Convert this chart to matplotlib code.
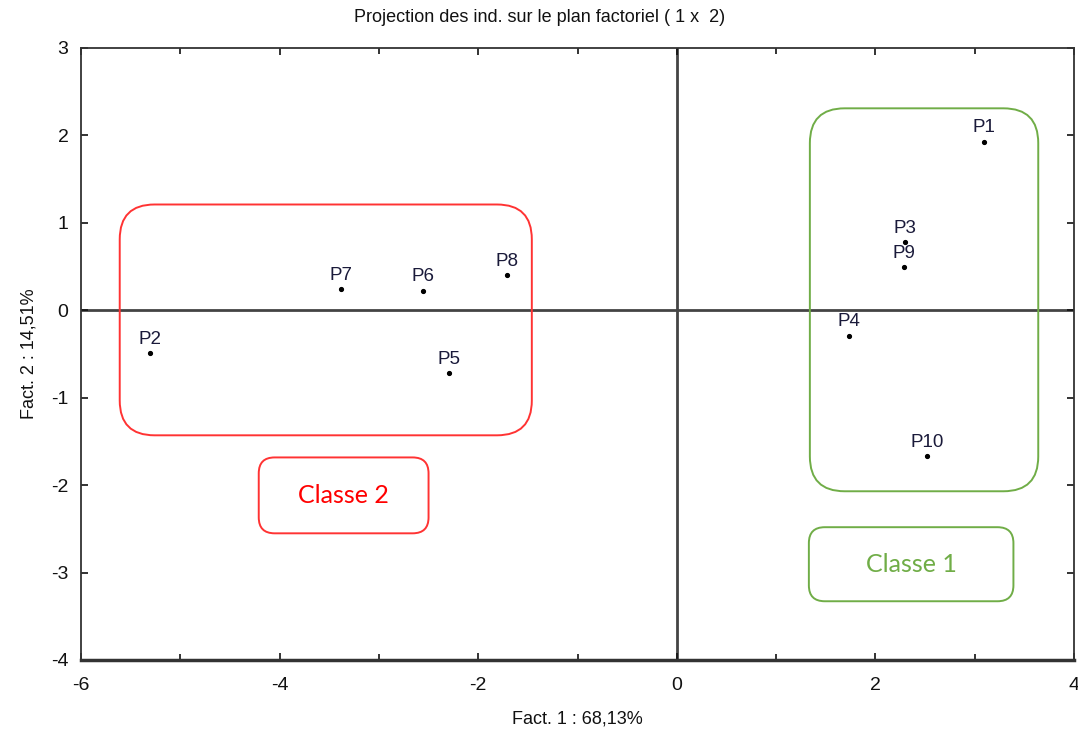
import matplotlib
matplotlib.use("Agg")
import matplotlib.pyplot as plt
from matplotlib.patches import FancyBboxPatch
from matplotlib.ticker import MultipleLocator
import numpy as np

# ---- data ----
labels = ["P1", "P2", "P3", "P4", "P5", "P6", "P7", "P8", "P9", "P10"]
fact1 = [3.09, -5.31, 2.30, 1.73, -2.29, -2.56, -3.38, -1.71, 2.29, 2.52]
fact2 = [1.93, -0.49, 0.78, -0.29, -0.72, 0.22, 0.24, 0.40, 0.49, -1.67]
classe = [1, 2, 1, 1, 2, 2, 2, 2, 1, 1]
class_names = {1: "Classe 1", 2: "Classe 2"}
title = "Projection des ind. sur le plan factoriel ( 1 x  2)"
xlabel = "Fact. 1 : 68,13%"
ylabel = "Fact. 2 : 14,51%"

# ---- style ----
GREEN = "#70AD47"
RED = "#FF3333"
RED_TXT = "#FF0000"
class_colors = {1: GREEN, 2: RED}
# padding of the class enclosures (left, right, bottom, top) in data units
class_pad = {1: (0.39, 0.55, 0.40, 0.38), 2: (0.30, 0.25, 0.71, 0.81)}
# caption box positions (axes fraction: x0, y0, w, h)
caption_box = {1: (0.733, 0.096, 0.206, 0.121), 2: (0.179, 0.207, 0.171, 0.124)}

narrow = ["Liberation Sans Narrow", "Liberation Sans", "DejaVu Sans"]
plt.rcParams["font.family"] = narrow
plt.rcParams["axes.unicode_minus"] = False

W, H = 1078, 736
fig = plt.figure(figsize=(W / 100, H / 100), dpi=100)
ax = fig.add_axes([81 / W, 1 - 660 / H, (1074 - 81) / W, (660 - 48) / H])

ax.set_xlim(-6, 4)
ax.set_ylim(-4, 3)
ax.xaxis.set_major_locator(MultipleLocator(2))
ax.xaxis.set_minor_locator(MultipleLocator(1))
ax.yaxis.set_major_locator(MultipleLocator(1))
ax.tick_params(which="both", direction="in", top=True, right=True,
               labelsize=14, colors="#111111", width=1.2)
ax.tick_params(axis="x", which="major", length=5, pad=12)
ax.tick_params(axis="y", which="major", length=5, pad=9)
ax.tick_params(which="minor", length=4)
for s in ax.spines.values():
    s.set_color("#333333")
    s.set_linewidth(1.3)
ax.spines["bottom"].set_linewidth(2.5)

ax.axhline(0, color="#444444", lw=2, zorder=1)
ax.axvline(0, color="#444444", lw=2, zorder=1)

x = np.array(fact1)
y = np.array(fact2)
c = np.array(classe)
ax.plot(x, y, ".", color="black", ms=5.5, zorder=3)
for lab, xi, yi in zip(labels, x, y):
    ax.annotate(lab, (xi, yi), xytext=(0, 4), textcoords="offset points",
                ha="center", va="bottom", fontsize=13.5, color="#1a1a3a",
                family=["Liberation Sans", "DejaVu Sans"], zorder=4)

for k in (1, 2):
    m = c == k
    pl, pr, pb, pt = class_pad[k]
    x0, x1 = x[m].min() - pl, x[m].max() + pr
    y0, y1 = y[m].min() - pb, y[m].max() + pt
    box = FancyBboxPatch((x0, y0), x1 - x0, y1 - y0,
                         boxstyle="round,pad=0,rounding_size=0.35",
                         mutation_aspect=99.3 / 87.4,
                         fc="none", ec=class_colors[k], lw=1.4, zorder=2)
    ax.add_patch(box)
    bx, by, bw, bh = caption_box[k]
    cap = FancyBboxPatch((bx, by), bw, bh, boxstyle="round,pad=0,rounding_size=0.016",
                         mutation_aspect=993 / 612,
                         transform=ax.transAxes, fc="white",
                         ec=class_colors[k], lw=1.4, zorder=2)
    ax.add_patch(cap)
    ax.text(bx + bw / 2, by + bh / 2, class_names[k], transform=ax.transAxes,
            ha="center", va="center", fontsize=18,
            color=GREEN if k == 1 else RED_TXT,
            family=["Lato", "DejaVu Sans"], zorder=3)

fig.text(540 / W, 1 - 18 / H, title, ha="center", va="center", fontsize=13, color="#111111")
ax.set_xlabel(xlabel, fontsize=13, color="#111111", labelpad=12)
ax.set_ylabel(ylabel, fontsize=13, color="#111111", labelpad=10)

fig.savefig("out.png", dpi=100)
